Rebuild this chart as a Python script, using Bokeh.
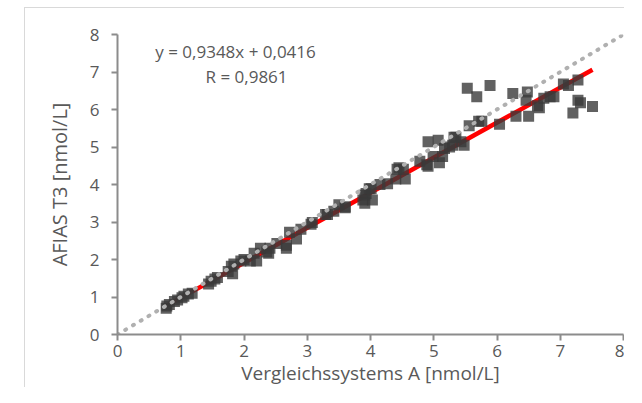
import math
from bokeh.plotting import figure
from bokeh.models import Label, FixedTicker, ColumnDataSource
from bokeh.embed import file_html
from bokeh.resources import INLINE

# ---- data ----
ref_x = [0.77, 0.78, 0.82, 0.90, 0.95, 1.02, 1.05, 1.12, 1.18,
         1.44, 1.48, 1.54, 1.58, 1.75, 1.80, 1.82, 1.84, 1.95, 2.00, 2.10,
         2.16, 2.20, 2.26, 2.36, 2.39, 2.41, 2.52, 2.67, 2.67, 2.72, 2.83,
         2.90, 3.06, 3.08, 3.29, 3.32, 3.42, 3.50, 3.60, 3.60, 3.88, 3.91,
         3.93, 3.98, 4.01, 4.03, 3.91, 4.15, 4.27, 4.40, 4.42, 4.45, 4.52,
         4.55, 4.78, 4.89, 4.91, 4.91, 4.99, 5.07, 5.09, 5.14, 5.17, 5.25,
         5.30, 5.32, 5.35, 5.43, 5.48, 5.53, 5.56, 5.68, 5.71, 5.76, 5.89,
         6.04, 6.25, 6.30, 6.46, 6.48, 6.50, 6.64, 6.67, 6.74, 6.84, 6.90,
         7.05, 7.13, 7.20, 7.28, 7.28, 7.32, 7.51]
afias_y = [0.70, 0.76, 0.80, 0.88, 0.92, 0.98, 1.02, 1.08, 1.10,
           1.35, 1.42, 1.48, 1.52, 1.68, 1.82, 1.62, 1.88, 1.96, 2.00, 1.96,
           2.17, 1.96, 2.30, 2.20, 2.17, 2.30, 2.43, 2.30, 2.38, 2.73, 2.55,
           2.81, 2.94, 2.99, 3.20, 3.20, 3.29, 3.46, 3.38, 3.41, 3.59, 3.72,
           3.76, 3.89, 3.89, 3.59, 3.50, 4.00, 4.02, 4.15, 4.41, 4.45, 4.41,
           4.15, 4.62, 4.53, 4.49, 5.14, 4.75, 5.18, 4.58, 4.75, 4.96, 5.00,
           5.05, 5.26, 5.26, 5.14, 5.05, 6.57, 5.57, 6.34, 5.69, 5.69, 6.64,
           5.61, 6.43, 5.82, 6.25, 6.47, 5.82, 6.10, 6.05, 6.30, 6.34, 6.34,
           6.68, 6.64, 5.91, 6.79, 6.25, 6.18, 6.08]

slope = 0.9348
intercept = 0.0416
r_value = "0,9861"
ticks = [0, 1, 2, 3, 4, 5, 6, 7, 8]
x_title = "Vergleichssystems A [nmol/L]"
y_title = "AFIAS T3 [nmol/L]"
eq_text = "y = 0,9348x + 0,0416"
r_text = "R = " + r_value

FONT = "Open Sans"
TXT = "#595959"
AX = "#8c8c8c"

p = figure(width=600, height=380, output_backend="svg", toolbar_location=None,
           x_range=(0, 8), y_range=(0, 8),
           min_border_left=92, min_border_right=2,
           min_border_top=26, min_border_bottom=10)
p.margin = (7, 0, 0, 24)
p.styles = {"border-left": "1px solid #d9d9d9", "border-top": "1px solid #d9d9d9"}
p.outline_line_color = None
p.grid.visible = False
p.background_fill_color = "white"
p.border_fill_color = "white"

for ax in (p.xaxis[0], p.yaxis[0]):
    ax.ticker = FixedTicker(ticks=ticks)
    ax.axis_line_color = AX
    ax.axis_line_width = 2
    ax.major_tick_line_color = AX
    ax.major_tick_line_width = 2
    ax.major_tick_in = 0
    ax.major_tick_out = 6
    ax.minor_tick_line_color = None
    ax.major_label_text_font = FONT
    ax.major_label_text_font_size = "17px"
    ax.major_label_text_color = TXT
    ax.major_label_text_line_height = 1.0
    ax.axis_label_text_font = FONT
    ax.axis_label_text_font_style = "normal"
    ax.axis_label_text_color = TXT
    ax.axis_label_text_line_height = 1.0
p.xaxis.major_label_standoff = 4
p.yaxis.major_label_standoff = 12

p.yaxis.axis_label = y_title
p.yaxis.axis_label_text_font_size = "20px"
p.yaxis.axis_label_standoff = 14

p.xaxis.axis_label = x_title
p.xaxis.axis_label_text_font_size = "19px"
p.xaxis.axis_label_standoff = 0

# regression line
x0, x1 = min(ref_x) - 0.02, max(ref_x)
p.line([x0, x1], [slope * x0 + intercept, slope * x1 + intercept],
       line_color="#ff0000", line_width=4.5)

# data points
src = ColumnDataSource(dict(x=ref_x, y=afias_y))
p.scatter("x", "y", source=src, marker="square", size=11,
          fill_color="#3a3a3a", fill_alpha=0.8, line_color=None)

# identity line
p.line([0, 8], [0, 8], line_color="#b0b0b0", line_width=4,
       line_dash="1 8", line_cap="round")

p.add_layout(Label(x=1.866, y=7.56, text=eq_text, text_align="center",
                   text_baseline="middle", text_font=FONT,
                   text_font_size="17px", text_color=TXT))
p.add_layout(Label(x=2.04, y=6.88, text=r_text, text_align="center",
                   text_baseline="middle", text_font=FONT,
                   text_font_size="17px", text_color=TXT))

open("out.html", "w").write(file_html(p, INLINE))
